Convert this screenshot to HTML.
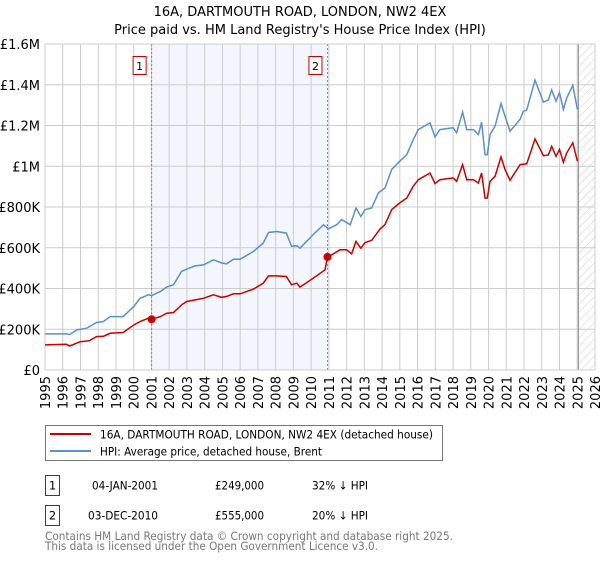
<!DOCTYPE html>
<html><head><meta charset="utf-8"><style>
body{margin:0;background:#fff;font-family:"Liberation Sans","DejaVu Sans",sans-serif;}
svg text{font-family:"DejaVu Sans","Liberation Sans",sans-serif;}
</style></head><body>
<svg id="c" width="600" height="560" xmlns="http://www.w3.org/2000/svg">
<defs><pattern id="hatch" width="6" height="6" patternUnits="userSpaceOnUse" patternTransform="rotate(45)"><line x1="0" y1="0" x2="0" y2="6" stroke="#ccc" stroke-width="1"/></pattern></defs>
<text x="300" y="16" text-anchor="middle" font-size="13">16A, DARTMOUTH ROAD, LONDON, NW2 4EX</text>
<text x="300" y="34" text-anchor="middle" font-size="13">Price paid vs. HM Land Registry's House Price Index (HPI)</text>
<g id="plot"></g>
<g>
<rect x="45.5" y="425.5" width="397" height="35" fill="#fff" stroke="#777"/>
<line x1="50" y1="434" x2="91" y2="434" stroke="#cc0000" stroke-width="2"/>
<text x="100" y="438.5" font-size="11.5" textLength="333" lengthAdjust="spacingAndGlyphs">16A, DARTMOUTH ROAD, LONDON, NW2 4EX (detached house)</text>
<line x1="50" y1="451" x2="91" y2="451" stroke="#5b8fd4" stroke-width="2"/>
<text x="100" y="455.5" font-size="11.5" textLength="222" lengthAdjust="spacingAndGlyphs">HPI: Average price, detached house, Brent</text>
</g>
<g font-size="11.5">
<rect x="45.5" y="475.5" width="14" height="20" fill="#fff" stroke="#cc0000"/>
<text x="52.5" y="489.5" text-anchor="middle">1</text>
<text x="92" y="489.5" textLength="66" lengthAdjust="spacingAndGlyphs">04-JAN-2001</text>
<text x="215" y="489.5" textLength="49" lengthAdjust="spacingAndGlyphs">£249,000</text>
<text x="312" y="489.5" textLength="56" lengthAdjust="spacingAndGlyphs">32% ↓ HPI</text>
<rect x="45.5" y="505.5" width="14" height="20" fill="#fff" stroke="#cc0000"/>
<text x="52.5" y="519.5" text-anchor="middle">2</text>
<text x="88" y="519.5" textLength="70" lengthAdjust="spacingAndGlyphs">03-DEC-2010</text>
<text x="215" y="519.5" textLength="49" lengthAdjust="spacingAndGlyphs">£555,000</text>
<text x="312" y="519.5" textLength="56" lengthAdjust="spacingAndGlyphs">20% ↓ HPI</text>
</g>
<text x="45" y="540" font-size="11.5" fill="#777" textLength="408" lengthAdjust="spacingAndGlyphs">Contains HM Land Registry data © Crown copyright and database right 2025.</text>
<text x="45" y="550" font-size="11.5" fill="#777" textLength="333" lengthAdjust="spacingAndGlyphs">This data is licensed under the Open Government Licence v3.0.</text>
</svg>
<script>
const hpiYears=[1995.0,1996.2,1996.4,1996.8,1997.35,1997.9,1998.3,1998.67,1999.4,2000.0,2000.36,2000.83,2001.0,2001.5,2001.86,2002.24,2002.7,2002.99,2003.46,2003.93,2004.5,2004.96,2005.24,2005.62,2006.0,2006.75,2007.3,2007.6,2008.06,2008.6,2008.9,2009.2,2009.37,2010.2,2010.7,2010.97,2011.44,2011.72,2012.2,2012.53,2012.8,2013.04,2013.41,2013.79,2014.16,2014.54,2015.0,2015.39,2015.76,2016.04,2016.7,2016.98,2017.26,2018.0,2018.2,2018.54,2018.77,2019.15,2019.43,2019.61,2019.8,2019.93,2020.08,2020.37,2020.7,2020.93,2021.21,2021.78,2021.96,2022.15,2022.62,2023.09,2023.37,2023.56,2023.8,2024.0,2024.22,2024.41,2024.75,2025.01];
const hpiValues=[177,177,174,197,205,233,238,262,262,311,352,369,365,385,407,418,484,495,511,516,541,525,521,544,544,582,623,675,680,672,607,610,598,672,713,693,713,738,713,795,754,787,795,869,893,984,1025,1057,1131,1180,1213,1144,1180,1189,1164,1266,1180,1180,1156,1216,1057,1057,1156,1197,1308,1246,1172,1230,1270,1275,1423,1315,1325,1374,1320,1361,1279,1336,1397,1279];
const propYears=[1995.0,1996.2,1996.4,1996.97,1997.5,1997.9,1998.3,1998.67,1999.4,2000.0,2000.36,2000.83,2001.01,2001.5,2001.86,2002.24,2002.7,2002.99,2003.46,2003.93,2004.5,2004.96,2005.24,2005.62,2006.0,2006.75,2007.3,2007.6,2008.06,2008.6,2008.9,2009.2,2009.37,2010.12,2010.78,2010.92,2011.25,2011.63,2012.0,2012.28,2012.53,2012.8,2013.04,2013.41,2013.88,2014.16,2014.54,2015.0,2015.39,2015.76,2016.04,2016.7,2016.98,2017.26,2018.0,2018.2,2018.54,2018.77,2019.15,2019.43,2019.61,2019.8,2019.93,2020.08,2020.37,2020.7,2020.93,2021.21,2021.78,2022.15,2022.62,2023.09,2023.37,2023.56,2023.8,2024.0,2024.22,2024.41,2024.75,2025.01];
const propValues=[123,126,118,139,144,164,166,180,184,221,238,254,249,262,279,282,320,336,344,352,369,357,361,374,374,397,426,462,462,459,418,426,407,451,492,555,570,590,590,570,631,598,626,636,692,713,787,820,844,902,934,967,915,934,943,926,1008,934,934,918,967,844,844,926,951,1046,984,931,1008,1012,1134,1052,1055,1098,1049,1082,1020,1066,1115,1025];
const saleYears=[2001.01,2010.92];
const saleValues=[249,555];
const saleLabels=["1","2"];
const yTicks=[0,200,400,600,800,1000,1200,1400,1600];
const yTickLabels=["£0","£200K","£400K","£600K","£800K","£1M","£1.2M","£1.4M","£1.6M"];
const xTicks=[1995,1996,1997,1998,1999,2000,2001,2002,2003,2004,2005,2006,2007,2008,2009,2010,2011,2012,2013,2014,2015,2016,2017,2018,2019,2020,2021,2022,2023,2024,2025,2026];
const NS="http://www.w3.org/2000/svg";
const L=45,R=595,T=44,B=370;
const x=y=>L+(y-1995)/31*(R-L);
const yv=v=>B-v/1600*(B-T);
const g=document.getElementById('plot');
function mk(t,a){const e=document.createElementNS(NS,t);for(const k in a)e.setAttribute(k,a[k]);g.appendChild(e);return e;}
let e;
e=mk('rect',{x:x(2001.01),y:T,width:x(2010.92)-x(2001.01),height:B-T,fill:'#eef2fb',opacity:0.7});


e=mk('rect',{x:x(2025.06),y:T,width:R-x(2025.06),height:B-T,fill:'url(#hatch)'});


yTicks.forEach((v,i)=>{
 e=mk('line',{x1:L,x2:R,y1:yv(v),y2:yv(v),stroke:'#ccc','stroke-width':1});
 
 
 e=mk('text',{x:L-5,y:yv(v)+5,'text-anchor':'end','font-size':13});
 e.textContent=yTickLabels[i];
 
 
});
xTicks.forEach(yr=>{
 e=mk('line',{x1:x(yr),x2:x(yr),y1:T,y2:B,stroke:'#ccc','stroke-width':1});
 
 
 e=mk('text',{x:0,y:0,'text-anchor':'end','font-size':13,transform:`translate(${x(yr)+5},${B+6}) rotate(-90)`});
 e.textContent=yr;
 
 
});
e=mk('line',{x1:x(2025.06),x2:x(2025.06),y1:T,y2:B,stroke:'#888','stroke-width':1});


saleYears.forEach((yr,i)=>{
 e=mk('line',{x1:x(yr),x2:x(yr),y1:T,y2:B,stroke:'#e06060','stroke-width':1,'stroke-dasharray':'2,2'});
 
 
 e=mk('rect',{x:x(yr)-18.5,y:56.5,width:13,height:18,fill:'#fff',stroke:'#cc0000'});
 
 
 e=mk('text',{x:x(yr)-12,y:70,'text-anchor':'middle','font-size':11});
 e.textContent=saleLabels[i];
 
 
});
e=mk('rect',{x:L,y:T,width:R-L,height:B-T,fill:'none',stroke:'#ccc'});


const pts=(xs,vs)=>xs.map((a,i)=>x(a).toFixed(1)+','+yv(vs[i]).toFixed(1)).join(' ');
e=mk('polyline',{points:pts(hpiYears,hpiValues),fill:'none',stroke:'#5b8fd4','stroke-width':1.5});


e=mk('polyline',{points:pts(propYears,propValues),fill:'none',stroke:'#cc0000','stroke-width':1.5});


saleYears.forEach((yr,i)=>{
 e=mk('circle',{cx:x(yr),cy:yv(saleValues[i]),r:4,fill:'#cc0000'});
 
 
});
</script>
</body></html>
